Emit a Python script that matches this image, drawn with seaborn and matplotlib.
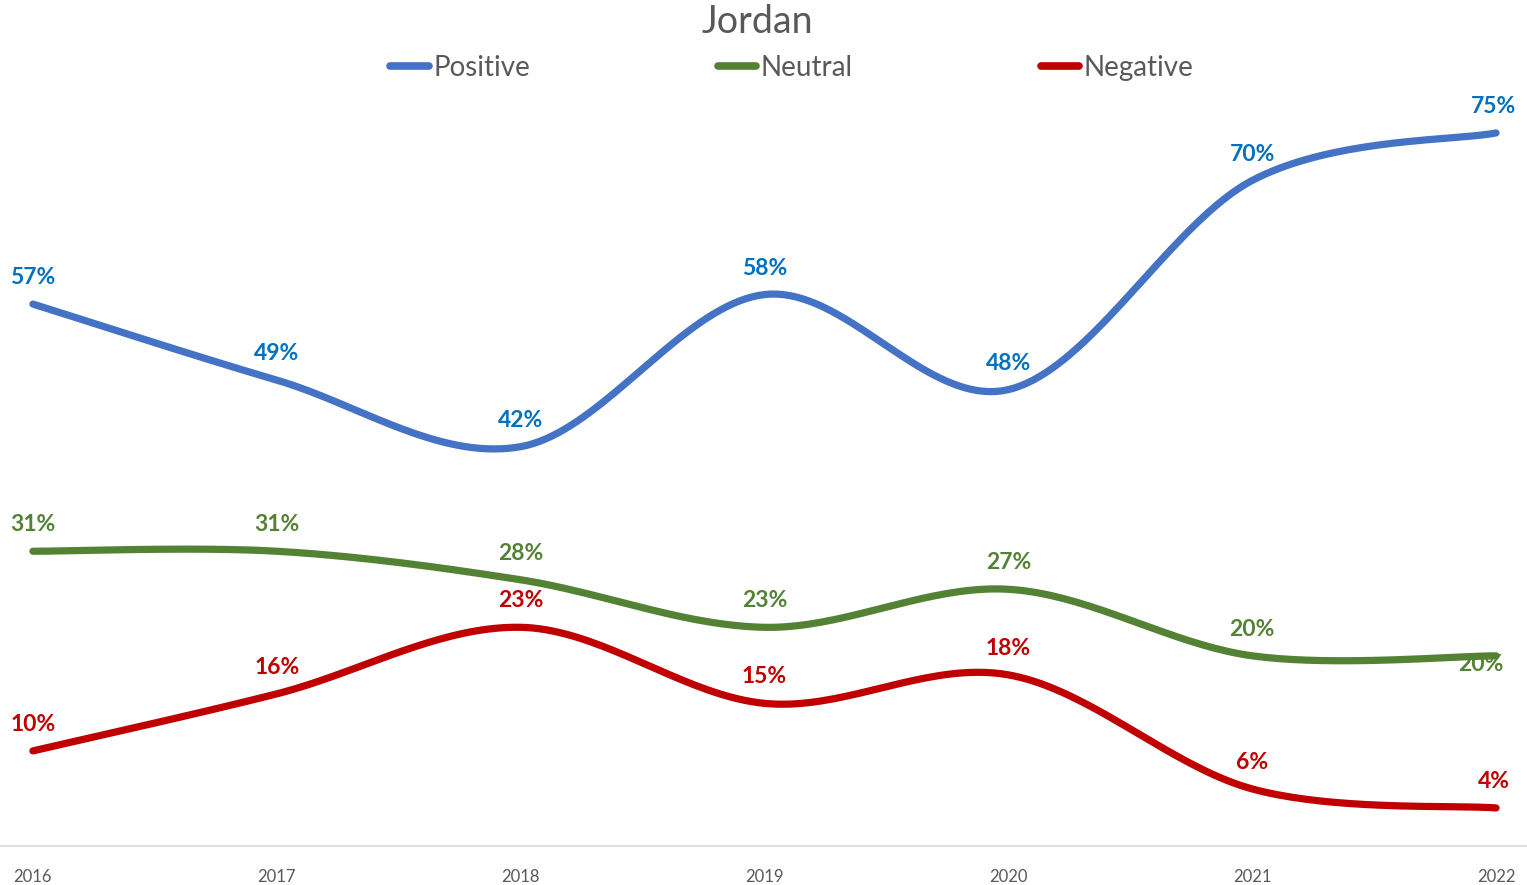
import matplotlib

matplotlib.use("Agg")
import matplotlib.pyplot as plt
import numpy as np
import pandas as pd
import seaborn as sns
from matplotlib.lines import Line2D

# values (Jordan, share of answers in %)
YEARS = [2016, 2017, 2018, 2019, 2020, 2021, 2022]
POSITIVE = [57, 49, 42, 58, 48, 70, 75]
NEUTRAL = [31, 31, 28, 23, 27, 20, 20]
NEGATIVE = [10, 16, 23, 15, 18, 6, 4]
SERIES = ["Positive", "Neutral", "Negative"]

LINE_COLORS = {"Positive": "#4472C4", "Neutral": "#548235", "Negative": "#C00000"}
LABEL_COLORS = {"Positive": "#0070C0", "Neutral": "#548235", "Negative": "#C00000"}
GREY_TEXT = "#595959"


def smooth_curve(xs, ys, steps=40):
    """Excel 스타일 곡선(Catmull-Rom 베지어)으로 점들을 잇는다."""
    x = np.asarray(xs, dtype=float)
    y = np.asarray(ys, dtype=float)
    px = np.concatenate([[x[0]], x, [x[-1]]])
    py = np.concatenate([[y[0]], y, [y[-1]]])
    t = np.linspace(0, 1, steps)
    out_x, out_y = [], []
    for i in range(len(x) - 1):
        p0 = np.array([px[i + 1], py[i + 1]])
        p3 = np.array([px[i + 2], py[i + 2]])
        c1 = p0 + (p3 - np.array([px[i], py[i]])) / 6
        c2 = p3 - (np.array([px[i + 3], py[i + 3]]) - p0) / 6
        pts = (
            ((1 - t) ** 3)[:, None] * p0
            + (3 * (1 - t) ** 2 * t)[:, None] * c1
            + (3 * (1 - t) * t ** 2)[:, None] * c2
            + (t ** 3)[:, None] * p3
        )
        out_x.extend(pts[:, 0])
        out_y.extend(pts[:, 1])
    return out_x, out_y


values = {"Positive": POSITIVE, "Neutral": NEUTRAL, "Negative": NEGATIVE}

frames = []
for name in SERIES:
    sx, sy = smooth_curve(YEARS, values[name])
    frames.append(pd.DataFrame({"year": sx, "share": sy, "series": name}))
curves = pd.concat(frames, ignore_index=True)

sns.set_theme(style="white")
plt.rcParams["font.family"] = ["Lato", "DejaVu Sans"]

fig = plt.figure(figsize=(15.27, 8.85), dpi=100)
ax = fig.add_axes([0, 0.0441, 1, 0.8594])

sns.lineplot(
    data=curves,
    x="year",
    y="share",
    hue="series",
    hue_order=SERIES,
    palette=LINE_COLORS,
    estimator=None,
    sort=False,
    linewidth=5.2,
    legend=False,
    ax=ax,
)
for line in ax.lines:
    line.set_solid_capstyle("round")

# data labels: centred above each point; the green 2022 one sits below-left
for name in SERIES:
    for year, v in zip(YEARS, values[name]):
        dx, dy = 0, 19
        if year == 2022:
            dx = -1.5
            if name == "Neutral":
                dx, dy = -11, -6.5
        ax.annotate(
            f"{v}%",
            (year, v),
            xytext=(dx, dy),
            textcoords="offset points",
            ha="center",
            va="center",
            fontsize=16.5,
            fontweight="bold",
            color=LABEL_COLORS[name],
        )

ax.set_xlim(2015.865, 2022.127)
ax.set_ylim(0, 80)
ax.set_xticks(YEARS)
ax.set_xticklabels([str(y) for y in YEARS], fontsize=12, color=GREY_TEXT)
ax.set_yticks([])
ax.set_xlabel("")
ax.set_ylabel("")
ax.tick_params(axis="x", length=0, pad=16.5)
for side in ["top", "left", "right"]:
    ax.spines[side].set_visible(False)
ax.spines["bottom"].set_color("#D9D9D9")
ax.spines["bottom"].set_linewidth(1.2)

fig.text(757 / 1527, 1 - 22 / 885, "Jordan", ha="center", va="center",
         fontsize=27, color=GREY_TEXT)

handles = [
    Line2D([0], [0], color=LINE_COLORS[n], linewidth=5.5, solid_capstyle="round")
    for n in SERIES
]
fig.legend(
    handles,
    SERIES,
    loc="center",
    bbox_to_anchor=(792 / 1527, 1 - 68 / 885),
    ncol=3,
    frameon=False,
    fontsize=20,
    labelcolor=GREY_TEXT,
    handlelength=1.37,
    handletextpad=0.18,
    columnspacing=6.75,
)

fig.savefig("out.png", dpi=100)
